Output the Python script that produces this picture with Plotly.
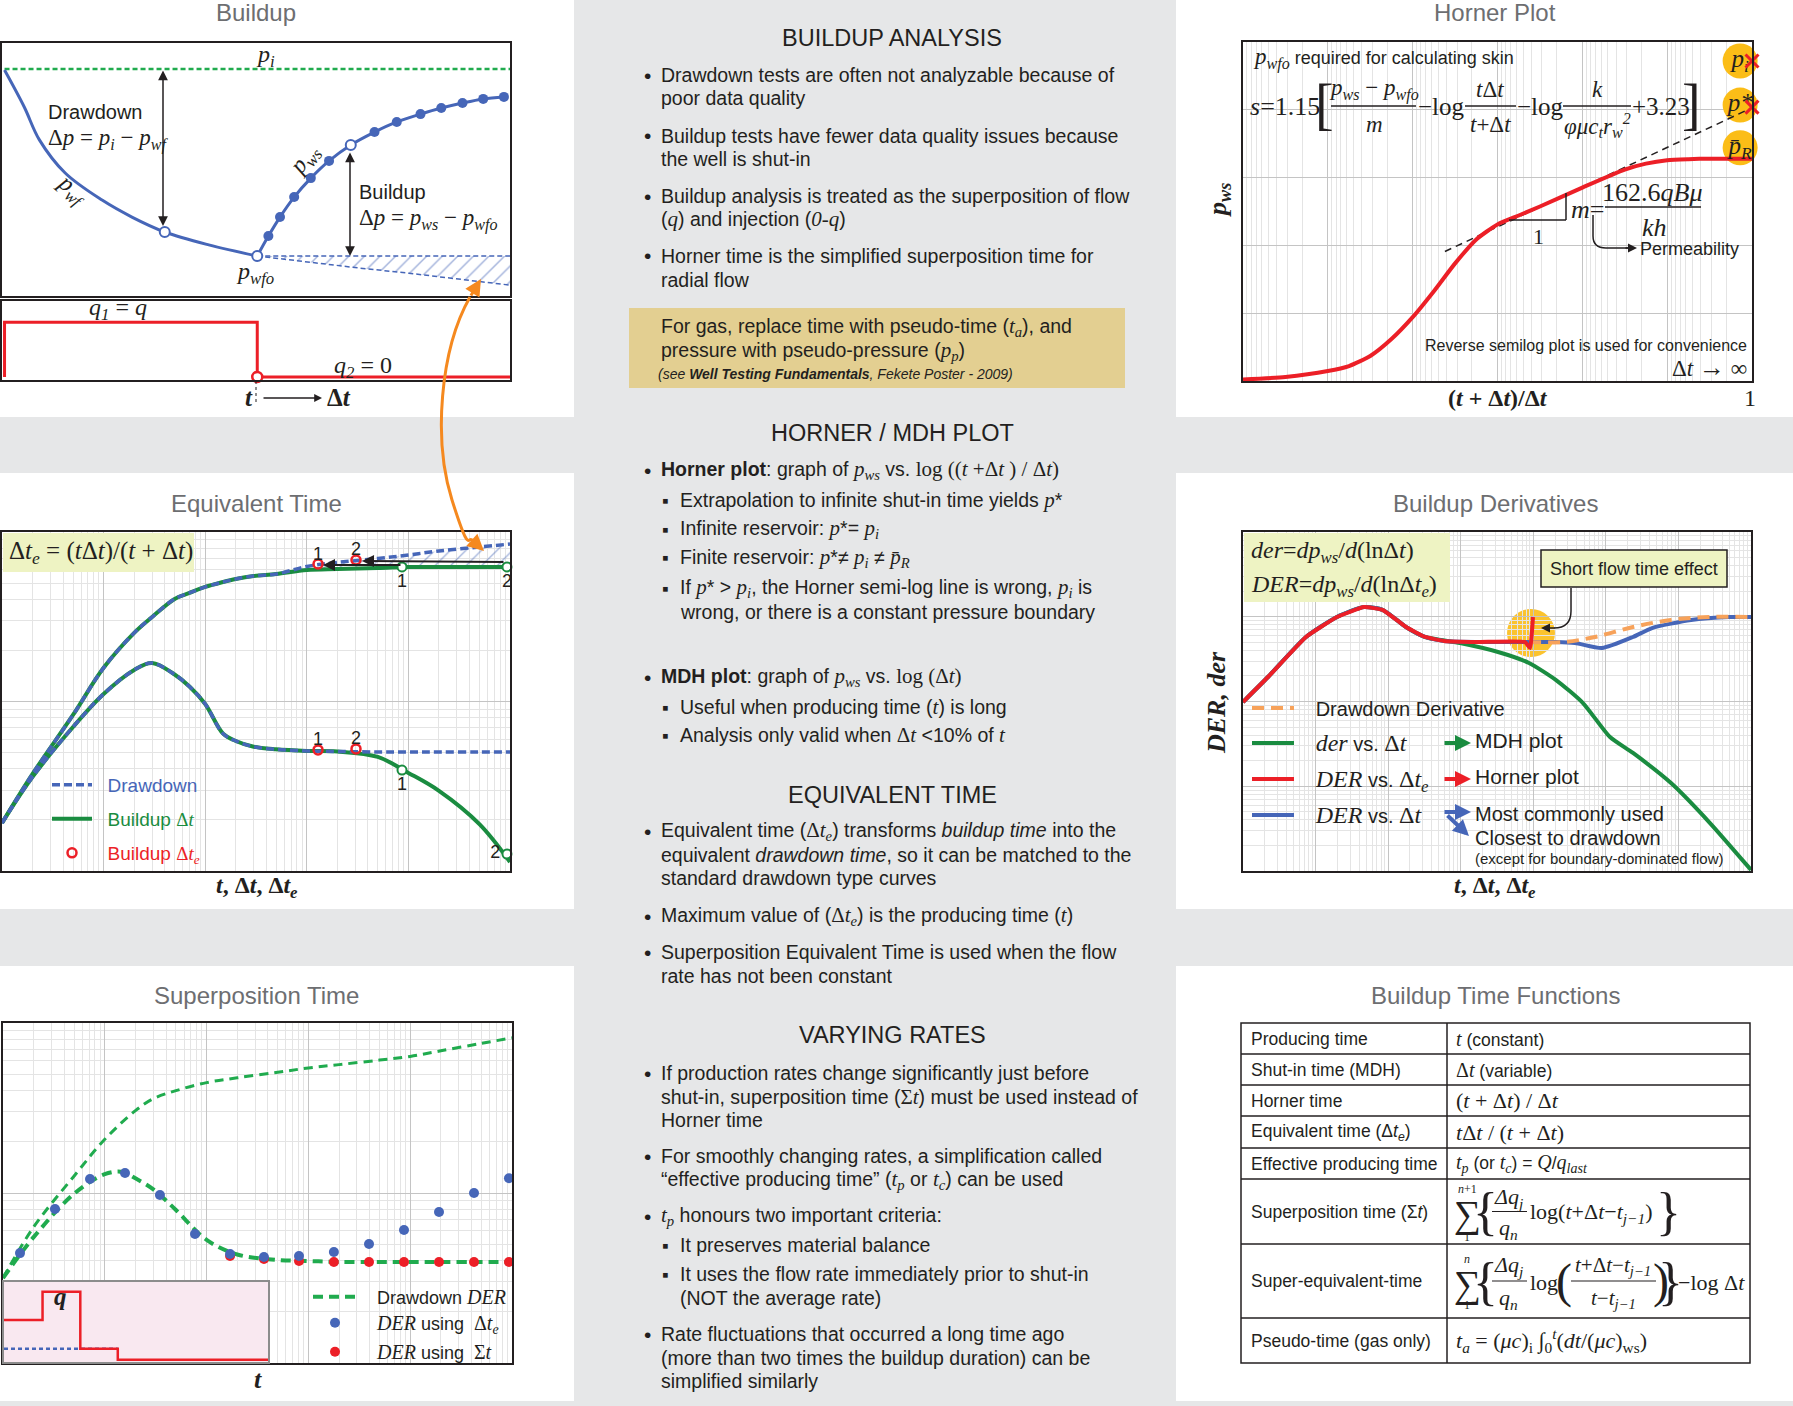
import plotly.graph_objects as go

W, H = 1793, 1406
SANS = "Liberation Sans, Arial, Helvetica, sans-serif"
SERIF_NAME = "Liberation Serif"
SERIF = "Liberation Serif, Times New Roman, serif"
INK = "#231f20"; TITLE = "#6d6e71"; GREYBG = "#e6e7e8"
BLUE = "#4666b8"; GREEN = "#1a8c40"; LGREEN = "#20ab4e"; RED = "#ec1f27"
ORANGE = "#f7a25a"; ARROW_OR = "#f5891f"; GOLD = "#fbbd17"; LIME = "#eef3c3"
TAN = "#e3cf91"; PINK = "#f9e8f0"

# ---------------- DATA ----------------
# Buildup panel (linear time, pressure; arbitrary units)
pi_t = [0, 100]
pi_p = [89.7, 89.7]
dd_t = [0, 3.9, 6.9, 12.0, 19.3, 25.2, 31.7, 40.4, 50.0]
dd_p = [89.3, 74.7, 61.7, 48.6, 37.9, 31.2, 25.3, 20.2, 15.8]
bu_t = [50.0, 52.2, 54.5, 57.3, 60.6, 64.2, 68.5, 73.2, 77.6, 82.3, 86.4, 90.6, 94.7, 98.8]
bu_p = [15.8, 23.7, 31.2, 39.1, 46.6, 53.4, 59.7, 64.8, 68.8, 71.9, 74.3, 76.3, 77.9, 78.7]
ext_t = [50, 60, 70, 80, 90, 100]
ext_p = [15.8, 13.3, 11.1, 9.0, 6.6, 4.3]
pwfo_t = [50, 100]
pwfo_p = [15.8, 15.8]
rate_t = [0, 0, 50, 50, 100]
rate_q = [0, 0.72, 0.72, 0, 0]

# Equivalent time panel (log-log)
eq_t = [0.1, 0.2, 0.5, 1, 2, 3, 5, 7, 10, 15, 20, 30, 50, 100, 200, 500, 1000, 2000, 5000, 10000]
eq_up_bu = [0.192, 0.374, 0.833, 1.58, 2.54, 3.15, 4.03, 4.37, 4.74, 5.07, 5.28, 5.50, 5.65, 5.97, 6.05, 6.13, 6.22, 6.22, 6.22, 6.22]
eq_up_dd = [0.192, 0.374, 0.833, 1.58, 2.54, 3.15, 4.03, 4.37, 4.74, 5.07, 5.28, 5.50, 5.65, 6.26, 6.61, 6.98, 7.32, 7.73, 8.16, 8.49]
eq_lo_bu = [0.192, 0.359, 0.707, 1.107, 1.534, 1.687, 1.443, 1.226, 0.967, 0.646, 0.585, 0.541, 0.522, 0.511, 0.507, 0.471, 0.379, 0.297, 0.189, 0.113]
eq_lo_dd = [0.192, 0.359, 0.707, 1.107, 1.534, 1.687, 1.443, 1.226, 0.967, 0.646, 0.585, 0.541, 0.522, 0.511, 0.507, 0.504, 0.504, 0.504, 0.504, 0.504]
eq_te_x = [129, 305, 129, 305]
eq_te_y = [6.47, 6.84, 0.518, 0.525]
eq_dt_x = [865, 9333, 865, 9333]
eq_dt_y = [6.22, 6.22, 0.394, 0.126]
eq_labels = ["1", "2", "1", "2"]

# Superposition panel (log-log)
sp_t_up = [0.1, 0.2, 0.5, 1, 2, 3, 5, 10, 20, 50, 100, 200, 500, 1000, 2000, 5000, 10000]
sp_up = [0.316, 0.631, 1.26, 2.07, 3.05, 3.59, 4.00, 4.46, 4.76, 5.13, 5.44, 5.69, 6.05, 6.36, 6.86, 7.59, 8.18]
sp_t_lo = [0.1, 0.2, 0.5, 1, 1.5, 2, 3, 5, 10, 20, 50, 100, 200, 500, 1000, 2000, 5000, 10000]
sp_lo = [0.316, 0.55, 0.99, 1.29, 1.33, 1.22, 1.05, 0.794, 0.530, 0.435, 0.404, 0.398, 0.393, 0.393, 0.393, 0.393, 0.393, 0.393]
sp_dot_t = [0.147, 0.324, 0.716, 1.58, 3.48, 7.69, 17.0, 36.6, 80.9, 178, 394, 869, 1919, 4236, 9340]
sp_dot_te = [0.443, 0.805, 1.21, 1.31, 0.973, 0.574, 0.438, 0.420, 0.426, 0.450, 0.501, 0.606, 0.773, 1.0, 1.22]
sp_dot_sig = [0.426, 0.409, 0.398, 0.393, 0.393, 0.393, 0.393, 0.393, 0.393]
inset_box_x = [0, 100, 100, 0, 0]
inset_box_y = [-0.03, -0.03, 1, 1, -0.03]
inset_t = [0, 14.6, 14.6, 28.9, 28.9, 43.1, 43.1, 100]
inset_q = [0.51, 0.51, 0.875, 0.875, 0.14, 0.14, 0.0, 0.0]
inset_avg_t = [0, 43.1]
inset_avg_q = [0.14, 0.14]

# Horner panel (reverse semilog)
hp_x = [1e6, 316228, 1e5, 56234, 31623, 17783, 1e4, 5623, 3162, 1778, 1000, 562, 316, 100, 31.6, 17.8, 10, 5.62, 3.16, 1]
hp_p = [0.022, 0.059, 0.147, 0.221, 0.368, 0.618, 0.941, 1.324, 1.735, 2.088, 2.309, 2.441, 2.574, 2.853, 3.118, 3.206, 3.257, 3.272, 3.279, 3.279]
hp_line_x = [4169, 1]
hp_line_y = [1.91, 4.03]
hp_mark_x = [1.38, 1.38, 1.38]
hp_mark_y = [4.72, 4.07, 3.44]
hp_cross_x = [1, 1]
hp_cross_y = [4.72, 4.04]

# Derivative panel (log-log)
dv_red_t = [0.01, 0.0221, 0.0738, 0.197, 0.465, 0.849, 1.76, 3.22, 5.89, 17.3, 76.9, 90.2, 99.1]
dv_red = [0.987, 1.945, 5.77, 9.93, 13.0, 12.0, 7.57, 5.77, 5.18, 5.04, 5.04, 4.28, 9.93]
dv_grn_t = [0.01, 0.0221, 0.0738, 0.197, 0.465, 0.849, 1.76, 3.22, 9.77, 32.7, 87.3, 206, 484, 1140, 2366, 7907, 27230, 100000]
dv_grn = [0.987, 1.945, 5.77, 9.93, 13.0, 12.0, 7.57, 5.77, 4.90, 3.84, 2.85, 1.79, 0.959, 0.381, 0.247, 0.109, 0.0368, 0.0103]
dv_blu_t = [0.01, 0.0221, 0.0738, 0.197, 0.465, 0.849, 1.76, 3.22, 5.89, 17.3, 76.9, 206, 376, 885, 2366, 4325, 14900, 49770, 100000]
dv_blu = [0.987, 1.945, 5.77, 9.93, 13.0, 12.0, 7.57, 5.77, 5.18, 5.04, 5.04, 5.04, 4.90, 4.28, 5.77, 7.36, 9.16, 9.93, 9.93]
dv_org_t = [87.3, 265, 708, 2366, 7907, 27230, 100000]
dv_org = [5.04, 5.04, 5.77, 7.57, 9.16, 9.93, 9.93]

# Table
tbl_labels = ["Producing time", "Shut-in time (MDH)", "Horner time", "Equivalent time (Δ<i>t<sub>e</sub></i>)",
              "Effective producing time", "Superposition time (Σ<i>t</i>)", "Super-equivalent-time",
              "Pseudo-time (gas only)"]
tbl_rows = [1023, 1054, 1085, 1116, 1148, 1179, 1244, 1318, 1363]


# ---------------- helpers ----------------
def X(p): return p / W
def Y(p): return 1 - p / H
def dom_x(a, b): return [a / W, b / W]
def dom_y(top, bot): return [1 - bot / H, 1 - top / H]


def _span(s, italic, size, bold):
    st = f"font-family:{SERIF_NAME}"
    if italic: st += ";font-style:italic"
    if bold: st += ";font-weight:bold"
    if size: st += f";font-size:{size}px"
    return f'<span style="{st}">{s}</span>'


def I(s, size=None, bold=False): return _span(s, True, size, bold)
def S(s, size=None, bold=False): return _span(s, False, size, bold)


ann = []
shapes = []


def T(x, y, text, size=18, color=INK, family=SANS, xa='left', ya='middle', angle=0):
    ann.append(dict(x=X(x), y=Y(y), xref='paper', yref='paper', text=text, showarrow=False,
                    xanchor=xa, yanchor=ya, textangle=angle, borderpad=0,
                    font=dict(size=size, color=color, family=family)))


def ARROW(x0, y0, x1, y1, color=INK, width=1.5, size=1.0, head=2, both=False):
    ann.append(dict(x=X(x1), y=Y(y1), xref='paper', yref='paper', ax=x0 - x1, ay=y0 - y1,
                    axref='pixel', ayref='pixel', text='', showarrow=True, arrowhead=head,
                    startarrowhead=head, arrowsize=size, startarrowsize=size, arrowwidth=width,
                    arrowcolor=color, arrowside='end+start' if both else 'end',
                    standoff=0, startstandoff=0))


def RECT(x0, y0, x1, y1, fill, line=None, lw=0, layer='above', opacity=1):
    shapes.append(dict(type='rect', xref='paper', yref='paper', x0=X(x0), x1=X(x1), y0=Y(y1), y1=Y(y0),
                       fillcolor=fill, line=dict(color=line or 'rgba(0,0,0,0)', width=lw),
                       layer=layer, opacity=opacity))


def LINE(x0, y0, x1, y1, color=INK, width=1.5, dash='solid'):
    shapes.append(dict(type='line', xref='paper', yref='paper', x0=X(x0), y0=Y(y0), x1=X(x1), y1=Y(y1),
                       line=dict(color=color, width=width, dash=dash)))


def CIRCLE(cx, cy, r, fill, layer='below', opacity=1):
    shapes.append(dict(type='circle', xref='paper', yref='paper', x0=X(cx - r), x1=X(cx + r),
                       y0=Y(cy + r), y1=Y(cy - r), fillcolor=fill, line=dict(width=0),
                       layer=layer, opacity=opacity))


def P(x, y): return f"{X(x):.5f},{Y(y):.5f}"


def PATH(d, color=INK, width=1.5):
    shapes.append(dict(type='path', xref='paper', yref='paper', path=d,
                       line=dict(color=color, width=width), fillcolor='rgba(0,0,0,0)'))


fig = go.Figure()


def sc(**kw):
    kw.setdefault('showlegend', False)
    kw.setdefault('hoverinfo', 'skip')
    fig.add_trace(go.Scatter(**kw))


# ---------------- background ----------------
RECT(574, 0, 1176, 1406, GREYBG, layer='below')
RECT(0, 417, 1793, 473, GREYBG, layer='below')
RECT(0, 909, 1793, 966, GREYBG, layer='below')
RECT(0, 1401, 1793, 1406, GREYBG, layer='below')

# ---------------- Buildup panel ----------------
sc(x=pi_t, y=pi_p, mode='lines', line=dict(color=LGREEN, width=2.5, dash='5px,3px'), xaxis='x', yaxis='y')
sc(x=ext_t, y=ext_p, mode='lines', line=dict(color=BLUE, width=1.5, dash='5px,3px'), xaxis='x', yaxis='y')
sc(x=pwfo_t, y=pwfo_p, mode='lines', line=dict(color=BLUE, width=1.5, dash='5px,3px'), fill='tonexty',
   fillcolor='rgba(255,255,255,0)',
   fillpattern=dict(shape='/', fgcolor=BLUE, bgcolor='rgba(255,255,255,0)', size=11, solidity=0.13,
                    fillmode='overlay'), xaxis='x', yaxis='y')
sc(x=dd_t, y=dd_p, mode='lines', line=dict(color=BLUE, width=3, shape='spline'), xaxis='x', yaxis='y')
sc(x=bu_t, y=bu_p, mode='lines', line=dict(color=BLUE, width=3, shape='spline'), xaxis='x', yaxis='y')
OPEN = 6
dot_idx = [i for i in range(1, len(bu_t)) if i != OPEN]
sc(x=[bu_t[i] for i in dot_idx], y=[bu_p[i] for i in dot_idx], mode='markers',
   marker=dict(color=BLUE, size=10), xaxis='x', yaxis='y', cliponaxis=False)
sc(x=[dd_t[6], dd_t[-1], bu_t[OPEN]], y=[dd_p[6], dd_p[-1], bu_p[OPEN]], mode='markers',
   marker=dict(symbol='circle', color='white', size=10, line=dict(color=BLUE, width=2)),
   xaxis='x', yaxis='y', cliponaxis=False)
# rate
sc(x=rate_t, y=rate_q, mode='lines', line=dict(color=RED, width=3), xaxis='x2', yaxis='y2')
sc(x=[rate_t[3]], y=[rate_q[3]], mode='markers',
   marker=dict(symbol='circle', color='white', size=10, line=dict(color=RED, width=2.5)),
   xaxis='x2', yaxis='y2', cliponaxis=False)

# ---------------- Equivalent time panel ----------------
sc(x=eq_t, y=eq_up_bu, mode='lines', line=dict(width=0, color='rgba(0,0,0,0)', shape='spline'),
   xaxis='x3', yaxis='y3')
sc(x=eq_t, y=eq_up_dd, mode='lines', line=dict(width=0, color='rgba(0,0,0,0)', shape='spline'),
   fill='tonexty', fillcolor='rgba(255,255,255,0)',
   fillpattern=dict(shape='/', fgcolor=BLUE, bgcolor='rgba(255,255,255,0)', size=11, solidity=0.12,
                    fillmode='overlay'), xaxis='x3', yaxis='y3')
sc(x=eq_t, y=eq_up_bu, mode='lines', line=dict(color=GREEN, width=4, shape='spline'), xaxis='x3', yaxis='y3',
   showlegend=True, legend='legend2', name="\u00a0\u00a0Buildup " + S("Δ") + I("t"))
sc(x=eq_t, y=eq_lo_bu, mode='lines', line=dict(color=GREEN, width=4, shape='spline'), xaxis='x3', yaxis='y3')
sc(x=eq_t, y=eq_up_dd, mode='lines', line=dict(color=BLUE, width=3.5, dash='8px,4px', shape='spline'),
   xaxis='x3', yaxis='y3', showlegend=True, legend='legend', name="\u00a0\u00a0Drawdown")
sc(x=eq_t, y=eq_lo_dd, mode='lines', line=dict(color=BLUE, width=3.5, dash='8px,4px', shape='spline'),
   xaxis='x3', yaxis='y3')
sc(x=eq_dt_x, y=eq_dt_y, mode='markers+text', text=eq_labels,
   textposition=['bottom center', 'bottom center', 'bottom center', 'middle left'],
   textfont=dict(size=18, color=INK, family=SANS),
   marker=dict(symbol='circle', color='white', size=9, line=dict(color=GREEN, width=2)),
   xaxis='x3', yaxis='y3', cliponaxis=False)
sc(x=eq_te_x, y=eq_te_y, mode='markers', marker=dict(symbol='circle-open', color=RED, size=9,
                                                      line=dict(width=2.5, color=RED)),
   xaxis='x3', yaxis='y3', cliponaxis=False, showlegend=True, legend='legend3',
   name="\u00a0\u00a0Buildup " + S("Δ") + I("t<sub>e</sub>"))
sc(x=eq_te_x, y=eq_te_y, mode='text', text=eq_labels, textposition='top center',
   textfont=dict(size=18, color=INK, family=SANS), xaxis='x3', yaxis='y3', cliponaxis=False)

# ---------------- Superposition panel ----------------
sc(x=sp_t_up, y=sp_up, mode='lines', line=dict(color=LGREEN, width=3, dash='9px,6px', shape='spline'),
   xaxis='x4', yaxis='y4')
sc(x=sp_t_lo, y=sp_lo, mode='lines', line=dict(color=LGREEN, width=4, dash='10px,6px', shape='spline'),
   xaxis='x4', yaxis='y4', showlegend=True, legend='legend4',
   name="\u00a0\u00a0\u00a0Drawdown " + I("DER", size=20))
sc(x=sp_dot_t[6:], y=sp_dot_sig, mode='markers', marker=dict(color=RED, size=10),
   xaxis='x4', yaxis='y4', cliponaxis=False, showlegend=True, legend='legend6',
   name="\u00a0\u00a0\u00a0" + I("DER", size=20) + " using  " + S("Σ", size=20) + I("t", size=20))
sc(x=sp_dot_t, y=sp_dot_te, mode='markers', marker=dict(color=BLUE, size=10),
   xaxis='x4', yaxis='y4', cliponaxis=False, showlegend=True, legend='legend5',
   name="\u00a0\u00a0\u00a0" + I("DER", size=20) + " using  " + S("Δ", size=20) + I("t<sub>e</sub>", size=20))
# inset
sc(x=inset_box_x, y=inset_box_y, mode='lines', fill='toself', fillcolor=PINK, line=dict(width=0),
   xaxis='x5', yaxis='y5')
sc(x=inset_avg_t, y=inset_avg_q, mode='lines', line=dict(color=BLUE, width=2.5, dash='4px,3px'),
   xaxis='x5', yaxis='y5')
sc(x=inset_t, y=inset_q, mode='lines', line=dict(color=RED, width=2.5), xaxis='x5', yaxis='y5')

# ---------------- Horner panel ----------------
sc(x=hp_mark_x, y=hp_mark_y, mode='markers', marker=dict(color=GOLD, size=35),
   xaxis='x6', yaxis='y6', cliponaxis=False)
sc(x=hp_line_x, y=hp_line_y, mode='lines', line=dict(color=INK, width=1.5, dash='7px,5px'),
   xaxis='x6', yaxis='y6')
sc(x=hp_x, y=hp_p, mode='lines', line=dict(color=RED, width=4, shape='spline', smoothing=0.6),
   xaxis='x6', yaxis='y6')
sc(x=hp_mark_x, y=hp_mark_y, mode='text',
   text=[I("p<sub>i</sub>"), I("p*"), I("p̄<sub>R</sub>")], textposition='middle center',
   textfont=dict(size=25, color=INK, family=SERIF), xaxis='x6', yaxis='y6', cliponaxis=False)
sc(x=hp_cross_x, y=hp_cross_y, mode='markers', marker=dict(symbol='x-thin', size=13, line=dict(color=RED, width=3)),
   xaxis='x6', yaxis='y6', cliponaxis=False)

# ---------------- Derivative panel ----------------
sc(x=dv_grn_t, y=dv_grn, mode='lines', line=dict(color=GREEN, width=4, shape='spline', smoothing=0.6),
   xaxis='x7', yaxis='y7', showlegend=True, legend='legend8',
   name="\u00a0\u00a0\u00a0" + I("der", size=24) + " vs. " + S("Δ", size=24) + I("t", size=24))
sc(x=dv_blu_t, y=dv_blu, mode='lines', line=dict(color=BLUE, width=4, shape='spline', smoothing=0.6),
   xaxis='x7', yaxis='y7', showlegend=True, legend='legend10',
   name="\u00a0\u00a0\u00a0" + I("DER", size=24) + " vs. " + S("Δ", size=24) + I("t", size=24))
sc(x=dv_org_t, y=dv_org, mode='lines', line=dict(color=ORANGE, width=4, dash='12px,7px', shape='spline'),
   xaxis='x7', yaxis='y7', showlegend=True, legend='legend7', name="\u00a0\u00a0\u00a0Drawdown Derivative")
sc(x=dv_red_t, y=dv_red, mode='lines', line=dict(color=RED, width=4, shape='spline', smoothing=0.35),
   xaxis='x7', yaxis='y7', showlegend=True, legend='legend9',
   name="\u00a0\u00a0\u00a0" + I("DER", size=24) + " vs. " + S("Δ", size=24) + I("t<sub>e</sub>", size=24))

# ---------------- titles ----------------
for (x, y, t) in [(256, 12, "Buildup"), (256, 503, "Equivalent Time"), (256, 995, "Superposition Time"),
                  (1495, 12, "Horner Plot"), (1495, 503, "Buildup Derivatives"),
                  (1495, 995, "Buildup Time Functions")]:
    T(x, y, t, size=24, color=TITLE, xa='center')

# ---------------- Buildup annotations ----------------
T(265, 56, I("p<sub>i</sub>"), 24, xa='center')
T(47, 112, "Drawdown", 20)
T(47, 140, S("Δ" + I("p") + " = " + I("p<sub>i</sub>") + " − " + I("p<sub>wf</sub>")), 23)
T(72, 190, I("p<sub>wf</sub>"), 24, xa='center', angle=40)
T(305, 160, I("p<sub>ws</sub>"), 24, xa='center', angle=-52)
T(358, 192, "Buildup", 20)
T(358, 219, S("Δ" + I("p") + " = " + I("p<sub>ws</sub>") + " − " + I("p<sub>wfo</sub>")), 23)
T(255, 273, I("p<sub>wfo</sub>"), 24, xa='center')
ARROW(163, 69, 163, 226, width=1.5, size=1.3, both=True)
ARROW(350, 151, 350, 256, width=1.5, size=1.3, both=True)
T(118, 309, I("q<sub>1</sub>") + S(" = ") + I("q"), 24, xa='center')
T(363, 367, I("q<sub>2</sub>") + S(" = 0"), 24, xa='center')
LINE(256, 381, 256, 404, width=1, dash='dot')
T(249, 397, I("t", bold=True), 25, xa='center')
ARROW(262, 398, 322, 398, width=1.3, size=1.2)
T(339, 397, S("Δ" + I("t"), bold=True), 25, xa='center')

# orange connector
PATH(f"M {P(470, 297)} C {P(440, 350)} {P(433, 440)} {P(452, 500)} S {P(467, 533)} {P(473, 541)}",
     color=ARROW_OR, width=3)
ARROW(470, 297, 481, 279, color=ARROW_OR, width=3, size=1.1)
ARROW(472, 540, 484, 551, color=ARROW_OR, width=3, size=1.1)

# ---------------- Equivalent time annotations ----------------
RECT(3, 533, 194, 572, LIME)
T(8, 553, S("Δ" + I("t<sub>e</sub>") + " = (" + I("t") + "Δ" + I("t") + ")/(" + I("t") + " + Δ" + I("t") + ")"), 25)
ARROW(402, 565, 323, 565, width=2, size=1.2)
ARROW(505, 562, 362, 561, width=2, size=1.2)
T(257, 887, S(I("t") + ", Δ" + I("t") + ", Δ" + I("t<sub>e</sub>"), bold=True), 24, xa='center')

# ---------------- Superposition annotations ----------------
T(61, 1296, I("q", bold=True), 25, xa='center')
T(258, 1379, I("t", bold=True), 26, xa='center')

# ---------------- Horner annotations ----------------
T(1252, 59, I("p<sub>wfo</sub>", size=23) + " required for calculating skin", 18)
T(1249, 106, I("s") + "=1.15", 26, family=SERIF)
T(1324, 104, "[", 56, family=SERIF, xa='center')
T(1374, 90, I("p<sub>ws</sub>") + " − " + I("p<sub>wfo</sub>"), 23, family=SERIF, xa='center')
LINE(1331, 106, 1416, 106, width=1.3)
T(1374, 124, I("m"), 23, family=SERIF, xa='center')
T(1417, 106, "−log", 25, family=SERIF)
T(1490, 90, I("t") + "Δ" + I("t"), 23, family=SERIF, xa='center')
LINE(1465, 106, 1516, 106, width=1.3)
T(1490, 124, I("t") + "+Δ" + I("t"), 23, family=SERIF, xa='center')
T(1516, 106, "−log", 25, family=SERIF)
T(1597, 90, I("k"), 23, family=SERIF, xa='center')
LINE(1563, 106, 1631, 106, width=1.3)
T(1597, 126, I("φμc<sub>t</sub>r<sub>w</sub><sup>2</sup>"), 23, family=SERIF, xa='center')
T(1631, 106, "+3.23", 25, family=SERIF)
T(1691, 104, "]", 56, family=SERIF, xa='center')
LINE(1509, 220, 1566, 220, width=1.5)
LINE(1566, 220, 1566, 193, width=1.5)
T(1538, 236, "1", 22, family=SERIF, xa='center')
T(1570, 209, I("m") + "=", 26, family=SERIF)
T(1652, 192, "162.6" + I("qBμ"), 26, family=SERIF, xa='center')
LINE(1605, 207, 1701, 207, width=1.3)
T(1654, 227, I("kh"), 26, family=SERIF, xa='center')
PATH(f"M {P(1593, 215)} L {P(1593, 236)} Q {P(1593, 248)} {P(1606, 248)} L {P(1628, 248)}", width=1.5)
ARROW(1624, 248, 1637, 248, width=1.5, size=1.2)
T(1639, 249, "Permeability", 18)
T(1748, 345, "Reverse semilog plot is used for convenience", 16, xa='right')
T(1748, 368, "Δ" + I("t") + " " + S("→", size=26) + " ∞", 23, family=SERIF, xa='right')
T(1498, 398, S("(" + I("t") + " + Δ" + I("t") + ")/Δ" + I("t"), bold=True), 24, xa='center')
T(1750, 398, "1", 24, family=SERIF, xa='center')
T(1219, 200, S(I("p<sub>ws</sub>"), bold=True), 26, xa='center', angle=-90)

# ---------------- Derivative annotations ----------------
RECT(1244, 533, 1450, 602, LIME)
T(1250, 552, I("der") + "=" + I("dp<sub>ws</sub>") + "/" + I("d") + "(lnΔ" + I("t") + ")", 24, family=SERIF)
T(1250, 586, I("DER") + "=" + I("dp<sub>ws</sub>") + "/" + I("d") + "(lnΔ" + I("t<sub>e</sub>") + ")", 24, family=SERIF)
CIRCLE(1531, 633, 24, GOLD, layer='below', opacity=0.9)
RECT(1541, 550, 1727, 587, LIME, line=INK, lw=1.5)
T(1634, 569, "Short flow time effect", 18, xa='center')
PATH(f"M {P(1571, 588)} L {P(1571, 611)} Q {P(1571, 628)} {P(1554, 628)}", width=1.5)
ARROW(1556, 628, 1541, 628, width=1.5, size=1.2)
ARROW(1443, 743, 1471, 743, color=GREEN, width=4, size=0.8)
T(1474, 740, "MDH plot", 21)
ARROW(1443, 779, 1471, 779, color=RED, width=4, size=0.8)
T(1474, 776, "Horner plot", 21)
ARROW(1443, 812, 1471, 812, color=BLUE, width=4, size=0.8)
ARROW(1446, 814, 1469, 836, color=BLUE, width=4, size=0.8)
T(1474, 814, "Most commonly used", 20)
T(1474, 838, "Closest to drawdown", 20)
T(1474, 858, "(except for boundary-dominated flow)", 15)
T(1216, 703, S(I("DER, der"), bold=True), 26, xa='center', angle=-90)
T(1495, 887, S(I("t") + ", Δ" + I("t") + ", Δ" + I("t<sub>e</sub>"), bold=True), 24, xa='center')

# ---------------- Table ----------------
TL, TM, TR = 1241, 1447, 1750
RECT(TL, tbl_rows[0], TR, tbl_rows[-1], 'rgba(0,0,0,0)', line=INK, lw=1.5)
for yv in tbl_rows[1:-1]:
    LINE(TL, yv, TR, yv, width=1.5)
LINE(TM, tbl_rows[0], TM, tbl_rows[-1], width=1.5)
centers = [(tbl_rows[i] + tbl_rows[i + 1]) / 2 for i in range(len(tbl_rows) - 1)]
for lab, cy in zip(tbl_labels, centers):
    T(1250, cy, lab, 17.5)
simple = {
    0: (I("t", size=20) + " (constant)", 17.5, SANS),
    1: (S("Δ", size=20) + I("t", size=20) + " (variable)", 17.5, SANS),
    2: ("(" + I("t") + " + Δ" + I("t") + ") / Δ" + I("t"), 22, SERIF),
    3: (I("t") + "Δ" + I("t") + " / (" + I("t") + " + Δ" + I("t") + ")", 22, SERIF),
    4: (I("t<sub>p</sub>", size=20) + " (or " + I("t<sub>c</sub>", size=20) + ") = " + I("Q", size=20) + "/" + I("q<sub>last</sub>", size=20), 17.5, SANS),
    7: (I("t<sub>a</sub>") + " = (" + I("μc") + ")<sub>i</sub> ∫<sub>0</sub><sup><i>t</i></sup>(" + I("dt") + "/(" + I("μc") + ")<sub>ws</sub>)", 22, SERIF),
}
for k, (txt, sz, fam) in simple.items():
    T(1455, centers[k], txt, sz, family=fam)
# superposition time
c5 = centers[5]
T(1467, c5 + 3, "∑", 38, family=SERIF, xa='center')
T(1467, c5 - 23, I("n") + "+1", 12, family=SERIF, xa='center')
T(1467, c5 + 25, "1", 12, family=SERIF, xa='center')
T(1485, c5, "{", 52, family=SERIF, xa='center')
T(1508, c5 - 14, I("Δq<sub>j</sub>"), 22, family=SERIF, xa='center')
LINE(1492, c5, 1527, c5, width=1.2)
T(1508, c5 + 17, I("q<sub>n</sub>"), 22, family=SERIF, xa='center')
T(1529, c5 + 1, "log(" + I("t") + "+Δ" + I("t") + "−" + I("t<sub>j−1</sub>") + ")", 22, family=SERIF)
T(1668, c5, "}", 52, family=SERIF, xa='center')
# super-equivalent time
c6 = centers[6]
T(1467, c6 + 3, "∑", 38, family=SERIF, xa='center')
T(1467, c6 - 22, I("n"), 12, family=SERIF, xa='center')
T(1467, c6 + 24, "1", 12, family=SERIF, xa='center')
T(1485, c6, "{", 52, family=SERIF, xa='center')
T(1508, c6 - 15, I("Δq<sub>j</sub>"), 22, family=SERIF, xa='center')
LINE(1492, c6, 1527, c6, width=1.2)
T(1508, c6 + 18, I("q<sub>n</sub>"), 22, family=SERIF, xa='center')
T(1529, c6 + 1, "log", 22, family=SERIF)
T(1564, c6, "(", 48, family=SERIF, xa='center')
T(1613, c6 - 15, I("t") + "+Δ" + I("t") + "−" + I("t<sub>j−1</sub>"), 21, family=SERIF, xa='center')
LINE(1571, c6, 1656, c6, width=1.2)
T(1613, c6 + 18, I("t") + "−" + I("t<sub>j−1</sub>"), 21, family=SERIF, xa='center')
T(1661, c6, ")", 48, family=SERIF, xa='center')
T(1670, c6, "}", 52, family=SERIF, xa='center')
T(1677, c6 + 1, "−log Δ" + I("t"), 22, family=SERIF)

# ---------------- Middle column text ----------------
LH = 23.5
BODY = 19.5


def para(x, y, lines, size=BODY):
    for i, ln in enumerate(lines):
        T(x, y + i * LH, ln, size)


def bullet(y, lines):
    T(643, y, "•", 21)
    para(660, y, lines)


def sub(y, lines):
    T(661, y, "▪", 19)
    para(679, y, lines)


def head(y, text):
    T(892, y, text, 23.5, xa='center')


head(38, "BUILDUP ANALYSIS")
bullet(75, ["Drawdown tests are often not analyzable because of", "poor data quality"])
bullet(136, ["Buildup tests have fewer data quality issues because", "the well is shut-in"])
bullet(196, ["Buildup analysis is treated as the superposition of flow",
             "(" + I("q", size=21) + ") and injection (" + I("0-q", size=21) + ")"])
bullet(256, ["Horner time is the simplified superposition time for", "radial flow"])
RECT(629, 308, 1125, 388, TAN, layer='below')
para(660, 327, ["For gas, replace time with pseudo-time (" + I("t<sub>a</sub>", size=21) + "), and",
                "pressure with pseudo-pressure (" + I("p<sub>p</sub>", size=21) + ")"])
T(657, 374, "<i>(see <b>Well Testing Fundamentals</b>, Fekete Poster - 2009)</i>", 14)

head(433, "HORNER / MDH PLOT")
bullet(470, ["<b>Horner plot</b>: graph of " + I("p<sub>ws</sub>", size=21) + " vs. " +
             S("log ((" + I("t") + " +Δ" + I("t") + " ) / Δ" + I("t") + ")", size=21)])
sub(500, ["Extrapolation to infinite shut-in time yields " + I("p", size=21) + "*"])
sub(529, ["Infinite reservoir: " + I("p", size=21) + "*= " + I("p<sub>i</sub>", size=21)])
sub(558, ["Finite reservoir: " + I("p", size=21) + "*≠ " + I("p<sub>i</sub>", size=21) + " ≠ " + I("p̄<sub>R</sub>", size=21)])
sub(588, ["If " + I("p", size=21) + "* &gt; " + I("p<sub>i</sub>", size=21) + ", the Horner semi-log line is wrong, " +
          I("p<sub>i</sub>", size=21) + " is", "wrong, or there is a constant pressure boundary"])
bullet(677, ["<b>MDH plot</b>: graph of " + I("p<sub>ws</sub>", size=21) + " vs. " +
             S("log (Δ" + I("t") + ")", size=21)])
sub(707, ["Useful when producing time (" + I("t", size=21) + ") is long"])
sub(735, ["Analysis only valid when " + S("Δ" + I("t"), size=21) + " &lt;10% of " + I("t", size=21)])

head(795, "EQUIVALENT TIME")
bullet(831, ["Equivalent time (" + S("Δ" + I("t<sub>e</sub>"), size=21) + ") transforms <i>buildup time</i> into the",
             "equivalent <i>drawdown time</i>, so it can be matched to the",
             "standard drawdown type curves"])
bullet(916, ["Maximum value of (" + S("Δ" + I("t<sub>e</sub>"), size=21) + ") is the producing time (" + I("t", size=21) + ")"])
bullet(952, ["Superposition Equivalent Time is used when the flow", "rate has not been constant"])

head(1035, "VARYING RATES")
bullet(1073, ["If production rates change significantly just before",
              "shut-in, superposition time (" + S("Σ" + I("t"), size=21) + ") must be used instead of",
              "Horner time"])
bullet(1156, ["For smoothly changing rates, a simplification called",
              "“effective producing time” (" + I("t<sub>p</sub>", size=21) + " or " + I("t<sub>c</sub>", size=21) + ") can be used"])
bullet(1216, [I("t<sub>p</sub>", size=21) + " honours two important criteria:"])
sub(1245, ["It preserves material balance"])
sub(1274, ["It uses the flow rate immediately prior to shut-in", "(NOT the average rate)"])
bullet(1334, ["Rate fluctuations that occurred a long time ago",
              "(more than two times the buildup duration) can be",
              "simplified similarly"])

# ---------------- axes ----------------
base = dict(showline=True, mirror=True, linecolor=INK, linewidth=1.5, ticks='', showticklabels=False,
            zeroline=False, showgrid=False, fixedrange=True)
loggrid = dict(type='log', showgrid=True, gridcolor='#c4c4c4', gridwidth=1, dtick=1,
               minor=dict(dtick='D1', showgrid=True, gridcolor='#e4e4e4', gridwidth=1, ticks=''))


def LEG(x, y, iw, size, color=INK):
    return dict(x=X(x), y=Y(y), xanchor='left', yanchor='middle', xref='paper', yref='paper',
                bgcolor='rgba(0,0,0,0)', borderwidth=0, itemwidth=iw, tracegroupgap=0,
                font=dict(family=SANS, size=size, color=color), itemclick=False, itemdoubleclick=False)


fig.update_layout(
    width=W, height=H, margin=dict(l=0, r=0, t=0, b=0, pad=0),
    paper_bgcolor='white', plot_bgcolor='white', showlegend=True,
    font=dict(family=SANS, color=INK),
    xaxis=dict(base, domain=dom_x(2, 510), range=[-0.5, 100], anchor='y'),
    yaxis=dict(base, domain=dom_y(43, 296), range=[0, 100], anchor='x'),
    xaxis2=dict(base, domain=dom_x(2, 510), range=[-0.5, 100], anchor='y2'),
    yaxis2=dict(base, domain=dom_y(301, 380), range=[-0.04, 1], anchor='x2'),
    xaxis3=dict(base, **loggrid, domain=dom_x(2, 510), range=[-1, 4], anchor='y3'),
    yaxis3=dict(base, **loggrid, domain=dom_y(532, 871), range=[-1, 1], anchor='x3'),
    xaxis4=dict(base, **loggrid, domain=dom_x(3, 512), range=[-1, 4], anchor='y4'),
    yaxis4=dict(base, **loggrid, domain=dom_y(1023, 1363), range=[-1, 1], anchor='x4'),
    xaxis5=dict(base, domain=dom_x(4, 268), range=[0, 100], anchor='y5', linecolor='#8c8c8c', linewidth=1.5),
    yaxis5=dict(base, domain=dom_y(1282, 1362), range=[-0.03, 1], anchor='x5', linecolor='#8c8c8c', linewidth=1.5),
    xaxis6=dict(base, **loggrid, domain=dom_x(1243, 1752), range=[6, 0], anchor='y6'),
    yaxis6=dict(base, domain=dom_y(42, 381), range=[0, 5], anchor='x6', showgrid=True, gridcolor='#c4c4c4', dtick=1),
    xaxis7=dict(base, **loggrid, domain=dom_x(1243, 1751), range=[-2, 5], anchor='y7'),
    yaxis7=dict(base, **loggrid, domain=dom_y(532, 871), range=[-2, 2], anchor='x7'),
    legend=LEG(47, 785, 40, 19, BLUE),
    legend2=LEG(47, 819, 40, 19, GREEN),
    legend3=LEG(47, 853, 40, 19, RED),
    legend4=LEG(308, 1297, 44, 18),
    legend5=LEG(308, 1323, 44, 18),
    legend6=LEG(308, 1352, 44, 18),
    legend7=LEG(1247, 708, 42, 20),
    legend8=LEG(1247, 743, 42, 20),
    legend9=LEG(1247, 779, 42, 20),
    legend10=LEG(1247, 815, 42, 20),
    shapes=shapes, annotations=ann,
)

fig.write_html("out.html", include_plotlyjs=True, config={'displayModeBar': False, 'staticPlot': False},
               post_script="document.body.style.margin='0px';document.body.style.overflow='hidden';")
